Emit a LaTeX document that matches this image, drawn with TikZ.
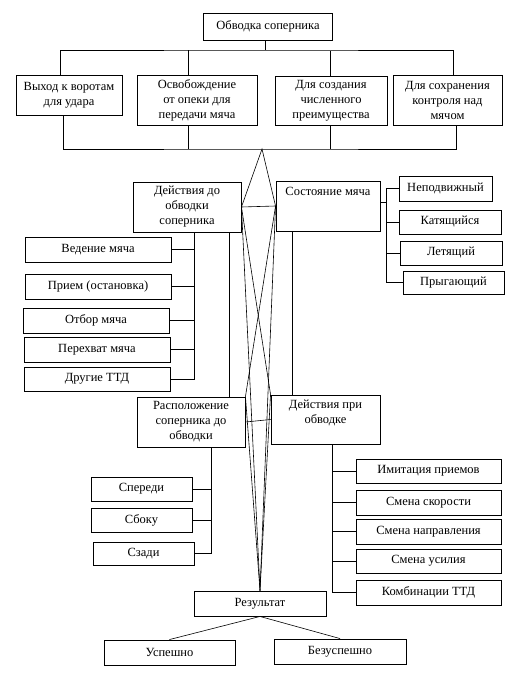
\documentclass[tikz,border=0pt]{standalone}
\usepackage{fontspec}
\setmainfont{Liberation Serif}
\usepackage{tikz}

\begin{document}
\begin{tikzpicture}[x=1pt, y=-1pt,
	box/.style={draw, line width=0.9pt, align=center, inner sep=1pt, font=\fontsize{12.5}{15}\selectfont},
	link/.style={line width=0.6pt}]
	\useasboundingbox (0,0) rectangle (525,687);

	\node[box, minimum width=129, minimum height=27] (root) at (268,26.5) {Обводка соперника};

	\node[box, minimum width=106, minimum height=40] (vyhod) at (69,95) {Выход к воротам\\для удара};
	\node[box, minimum width=120, minimum height=50] (osv) at (197,100) {Освобождение\\от опеки для\\передачи мяча};
	\node[box, minimum width=112, minimum height=49] (sozd) at (331,100.5) {Для создания\\численного\\преимущества};
	\node[box, minimum width=109, minimum height=50] (sohr) at (447.5,100) {Для сохранения\\контроля над\\мячом};

	\node[box, minimum width=108, minimum height=50] (dejst) at (187,207) {Действия до\\обводки\\соперника};
	\node[box, minimum width=104, minimum height=50] (sost) at (328,206) {Состояние мяча\\~\\~};

	\node[box, minimum width=93, minimum height=25] (nepodv) at (445.5,188.5) {Неподвижный};
	\node[box, minimum width=102, minimum height=24] (katya) at (450,222) {Катящийся};
	\node[box, minimum width=102, minimum height=24] (letya) at (451,253) {Летящий};
	\node[box, minimum width=101, minimum height=23] (pryg) at (453.5,282.5) {Прыгающий};

	\node[box, minimum width=146, minimum height=25] (vedenie) at (98,249.5) {Ведение мяча};
	\node[box, minimum width=146, minimum height=25] (priem) at (98,286.5) {Прием (остановка)};
	\node[box, minimum width=146, minimum height=25] (otbor) at (96,320.5) {Отбор мяча};
	\node[box, minimum width=146, minimum height=25] (perehvat) at (97,349.5) {Перехват мяча};
	\node[box, minimum width=146, minimum height=24] (drugie) at (97,379) {Другие ТТД};

	\node[box, minimum width=108, minimum height=50] (rasp) at (191,422) {Расположение\\соперника до\\обводки};
	\node[box, minimum width=109, minimum height=49] (dpri) at (325.5,419.5) {Действия при\\обводке\\~};

	\node[box, minimum width=101, minimum height=24] (speredi) at (141.5,489) {Спереди};
	\node[box, minimum width=101, minimum height=24] (sboku) at (141.5,520) {Сбоку};
	\node[box, minimum width=101, minimum height=23] (szadi) at (143.5,553.5) {Сзади};

	\node[box, minimum width=145, minimum height=24] (imit) at (428.5,471) {Имитация приемов};
	\node[box, minimum width=145, minimum height=25] (skor) at (428.5,502.5) {Смена скорости};
	\node[box, minimum width=145, minimum height=25] (napr) at (428.5,531.5) {Смена направления};
	\node[box, minimum width=145, minimum height=24] (usil) at (428.5,561) {Смена усилия};
	\node[box, minimum width=145, minimum height=25] (komb) at (428.5,592.5) {Комбинации ТТД};

	\node[box, minimum width=132, minimum height=25] (res) at (260,603.5) {Результат};
	\node[box, minimum width=131, minimum height=25] (usp) at (169.5,652.5) {Успешно};
	\node[box, minimum width=132, minimum height=25] (bezusp) at (340,651.5) {Безуспешно};

	\coordinate (topbar) at (265,50);
	\coordinate (apex) at (262,149);

	\draw[link] (root.south -| topbar) -- (topbar);
	\draw[link] ([xshift=-9]vyhod.north) |- (topbar) -| ([xshift=5.5]sohr.north);
	\draw[link] ([xshift=-9]osv.north) -- ++(0,-25);
	\draw[link] ([xshift=-1]sozd.north) -- ++(0,-25);

	\draw[link] ([xshift=-6]vyhod.south) |- (apex) -| ([xshift=8.5]sohr.south);
	\draw[link] ([xshift=-9]osv.south) -- ++(0,24);
	\draw[link] ([xshift=-1]sozd.south) -- ++(0,24);

	\draw[link] (apex) -- (dejst.east) -- (sost.west) -- cycle;
	\draw[link] (dejst.east) -- (res.north);
	\draw[link] (sost.west) -- (res.north);
	\draw[link] (dejst.east) -- (dpri.north west);
	\draw[link] (sost.west) -- (rasp.north east);
	\draw[link] (rasp.north east) -- (res.north);
	\draw[link] (dpri.north west) -- (res.north);
	\draw[link] (rasp.east) -- (dpri.west);

	\draw[link] ([xshift=42]dejst.south) -- ([xshift=42]dejst.south |- rasp.north);
	\draw[link] ([xshift=-36]sost.south) -- ([xshift=-36]sost.south |- dpri.north);

	\coordinate (lbar) at ([xshift=7]dejst.south);
	\draw[link] (lbar) |- (drugie.east);
	\foreach \n in {vedenie,priem,otbor,perehvat}
		\draw[link] (\n.east) -- (\n.east -| lbar);

	\coordinate (rbar) at ([xshift=-16]pryg.west);
	\draw[link] (nepodv.west) -| (rbar) -- (pryg.west);
	\draw[link] ([yshift=4]sost.east) -- ([yshift=4]sost.east -| rbar);
	\foreach \n in {katya,letya}
		\draw[link] (\n.west) -- (\n.west -| rbar);

	\coordinate (sbar) at ([xshift=20]rasp.south);
	\draw[link] (sbar) |- (szadi.east);
	\foreach \n in {speredi,sboku}
		\draw[link] (\n.east) -- (\n.east -| sbar);

	\coordinate (dbar) at ([xshift=6.5]dpri.south);
	\draw[link] (dbar) |- (komb.west);
	\foreach \n in {imit,skor,napr,usil}
		\draw[link] (\n.west) -- (\n.west -| dbar);

	\draw[link] (res.south) -- (usp.north);
	\draw[link] (res.south) -- (bezusp.north);

\end{tikzpicture}
\end{document}
